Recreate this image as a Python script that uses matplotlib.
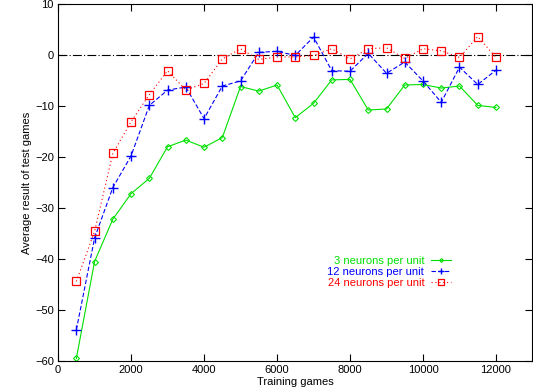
import numpy as np
import matplotlib
matplotlib.use('Agg')
import matplotlib.pyplot as plt

###############################################################################
## Data
###############################################################################
games = np.arange(500, 12001, 500)

n3 = [-59.5, -40.5, -32.2, -27.2, -24.2, -18.0, -16.7, -18.1, -16.2, -6.2,
      -7.1, -5.9, -12.3, -9.5, -4.9, -4.8, -10.8, -10.6, -5.9, -5.8,
      -6.5, -6.1, -9.9, -10.3]
n12 = [-53.9, -35.9, -26.0, -19.8, -9.9, -6.9, -6.3, -12.5, -6.1, -5.1,
       0.5, 0.7, -0.1, 3.5, -3.1, -3.2, 0.3, -3.6, -1.4, -5.1,
       -9.3, -2.4, -5.8, -3.0]
n24 = [-44.4, -34.6, -19.3, -13.1, -7.8, -3.1, -6.9, -5.6, -0.8, 1.2,
       -0.9, -0.4, -0.4, -0.1, 1.2, -0.8, 1.2, 1.4, -0.7, 1.2,
       0.8, -0.5, 3.6, -0.5]

labels = ['3 neurons per unit', '12 neurons per unit', '24 neurons per unit']
colors = ['#00e000', '#0000ff', '#ff0000']

###############################################################################
plt.rcParams['font.family'] = ['Liberation Sans', 'DejaVu Sans']
plt.rcParams['font.size'] = 8

fig = plt.figure(figsize=(5.33, 3.89), dpi=100)
ax = fig.add_axes([0.109, 0.072, 0.89, 0.918])

ax.axhline(0, color='black', lw=0.8, ls=(0, (8, 2, 1, 2)))

ax.plot(games, n3, color=colors[0], lw=0.8, ls='-', marker='D', ms=3,
        mfc='none', mew=0.8, label=labels[0])
ax.plot(games, n12, color=colors[1], lw=0.8, ls=(0, (4, 2)), marker='+', ms=7,
        mew=1.0, label=labels[1])
ax.plot(games, n24, color=colors[2], lw=0.8, ls=(0, (1, 2.5)), marker='s', ms=6,
        mfc='none', mew=0.9, label=labels[2])

ax.set_xlim(0, 13000)
ax.set_ylim(-60, 10)
ax.set_xticks(np.arange(0, 12001, 2000))
ax.set_yticks(np.arange(-60, 11, 10))
ax.tick_params(direction='in', top=True, right=True, length=5, width=0.8, pad=3)
for s in ax.spines.values():
    s.set_linewidth(0.8)

ax.set_xlabel('Training games', labelpad=1)
ax.set_ylabel('Average result of test games', labelpad=2)

leg = ax.legend(loc='upper right', bbox_to_anchor=(0.828, 0.295), frameon=False,
                markerfirst=False, handlelength=1.8, handletextpad=0.6,
                labelspacing=0.12, borderpad=0, borderaxespad=0, markerscale=0.65)
for t, c in zip(leg.get_texts(), colors):
    t.set_color(c)

fig.savefig('out.png', dpi=100)
